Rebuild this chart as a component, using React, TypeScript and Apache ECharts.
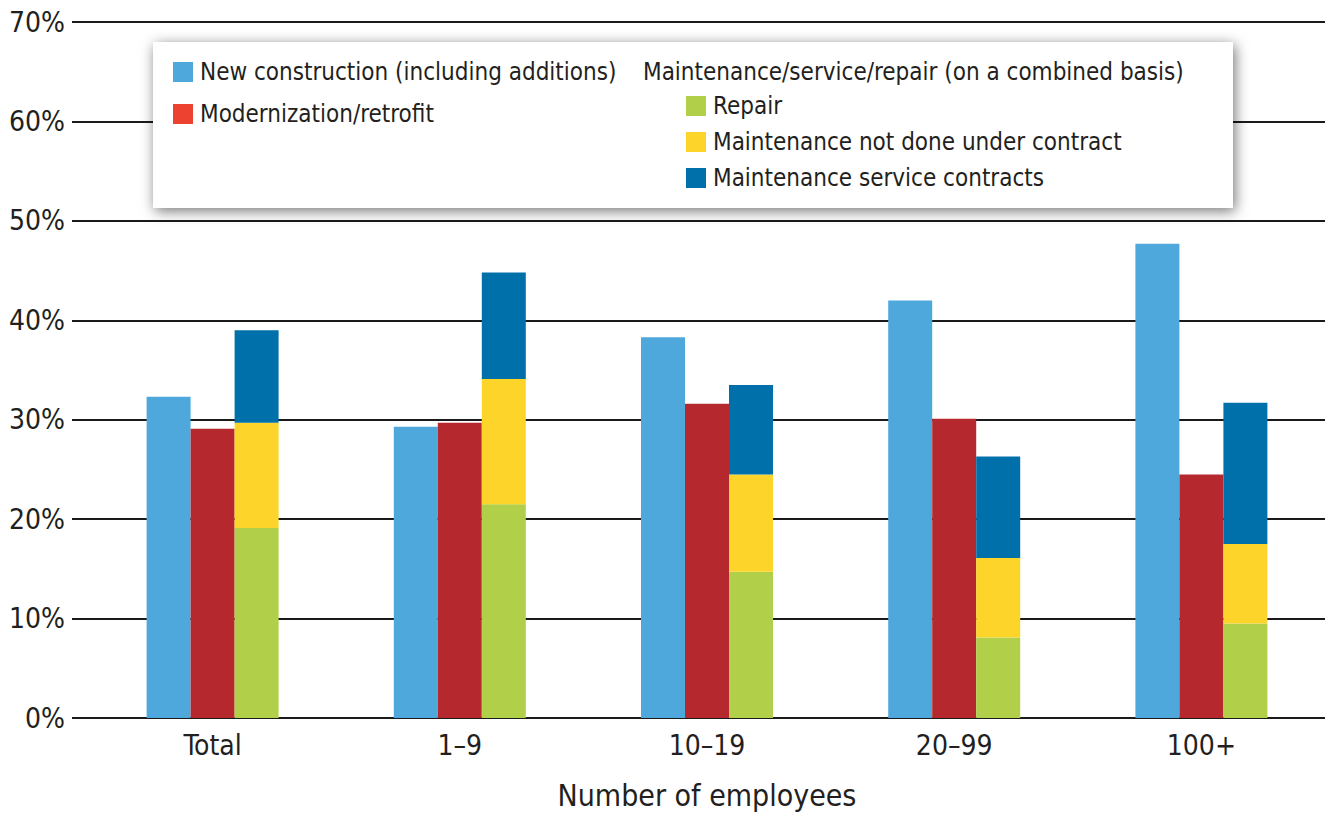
import React, { useEffect, useRef } from "react";
import * as echarts from "echarts";

const categories = ["Total", "1\u20139", "10\u201319", "20\u201399", "100+"];
const yTicks = [0, 10, 20, 30, 40, 50, 60, 70];
const newConstruction = [32.3, 29.3, 38.3, 42.0, 47.7];
const modernization = [29.1, 29.7, 31.6, 30.1, 24.5];
const repair = [19.1, 21.5, 14.7, 8.1, 9.5];
const maintNoContract = [10.6, 12.6, 9.8, 8.0, 8.0];
const maintContracts = [9.3, 10.7, 9.0, 10.2, 14.2];

const FONT = '"DejaVu Sans Condensed", "Roboto", sans-serif';
const TEXT = "#231F20";

export default function App() {
  const ref = useRef<HTMLDivElement>(null);
  useEffect(() => {
    if (!ref.current) return;
    const chart = echarts.init(ref.current, null, { renderer: "svg" });
    const lineStyle = { color: "#1a1a1a", width: 2 };
    const names = [
      "New construction (including additions)",
      "Modernization/retrofit",
      "Repair",
      "Maintenance not done under contract",
      "Maintenance service contracts",
    ];
    const bar = (name: string, data: number[], color: string, stack?: string) => ({
      name,
      type: "bar",
      data,
      stack,
      barWidth: 44,
      barGap: "0%",
      itemStyle: { color },
    });
    const legendText = {
      fontSize: 24,
      lineHeight: 20,
      color: TEXT,
      fontFamily: FONT,
      padding: [0, 0, 0, 2],
    };
    chart.setOption({
      animation: false,
      textStyle: { fontFamily: FONT, color: TEXT },
      grid: { left: 89, right: 15, top: 22, bottom: 93 },
      xAxis: {
        type: "category",
        data: categories,
        axisLine: { show: false },
        axisTick: { show: false },
        axisLabel: { fontSize: 28, color: TEXT, fontFamily: FONT, margin: 13 },
        name: "Number of employees",
        nameLocation: "middle",
        nameGap: 62,
        nameTextStyle: { fontSize: 30, color: TEXT, fontFamily: FONT },
      },
      yAxis: {
        type: "value",
        min: 0,
        max: 70,
        interval: 10,
        axisLine: { show: false },
        axisTick: { show: true, length: 17, lineStyle },
        splitLine: { show: true, lineStyle },
        axisLabel: {
          fontSize: 28,
          color: TEXT,
          fontFamily: FONT,
          margin: 24,
          formatter: (v: number) => (yTicks.includes(v) ? v + "%" : ""),
        },
      },
      graphic: [
        {
          type: "rect",
          z: 5,
          shape: { x: 153, y: 42, width: 1080, height: 166 },
          style: {
            fill: "#ffffff",
            shadowBlur: 14,
            shadowColor: "rgba(0,0,0,0.55)",
            shadowOffsetX: 2,
            shadowOffsetY: 3,
          },
        },
        {
          type: "text",
          z: 10,
          x: 643,
          y: 72,
          style: {
            text: "Maintenance/service/repair (on a combined basis)",
            fontSize: 24,
            fontFamily: FONT,
            fill: TEXT,
            verticalAlign: "middle",
          },
        },
      ],
      legend: [
        {
          z: 10,
          orient: "vertical",
          left: 173,
          top: 60,
          padding: 0,
          itemWidth: 20,
          itemHeight: 20,
          itemGap: 18,
          icon: "rect",
          textStyle: legendText,
          data: [
            { name: names[0], itemStyle: { color: "#4FA8DC" } },
            { name: names[1], itemStyle: { color: "#EE4230" } },
          ],
        },
        {
          z: 10,
          orient: "vertical",
          left: 686,
          top: 94,
          padding: 0,
          itemWidth: 20,
          itemHeight: 20,
          itemGap: 12,
          icon: "rect",
          textStyle: legendText,
          data: [
            { name: names[2], itemStyle: { color: "#B1CF49" } },
            { name: names[3], itemStyle: { color: "#FDD52A" } },
            { name: names[4], itemStyle: { color: "#0070AA" } },
          ],
        },
      ],
      series: [
        bar(names[0], newConstruction, "#4FA8DC"),
        bar(names[1], modernization, "#B5282E"),
        bar(names[2], repair, "#B1CF49", "m"),
        bar(names[3], maintNoContract, "#FDD52A", "m"),
        bar(names[4], maintContracts, "#0070AA", "m"),
      ],
    });
    return () => chart.dispose();
  }, []);
  return (
    <div
      ref={ref}
      style={{ position: "absolute", left: 0, top: 0, width: 1340, height: 815, background: "#fff" }}
    />
  );
}
